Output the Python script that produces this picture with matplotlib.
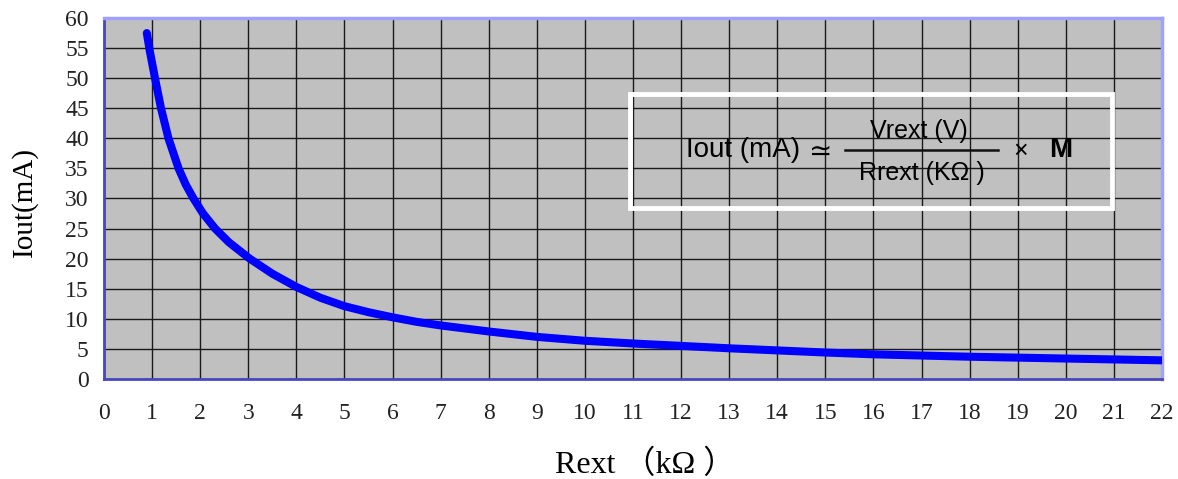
import matplotlib
matplotlib.use("Agg")
import matplotlib.pyplot as plt
from matplotlib.patches import Rectangle

# Data
rext_kohm = [0.89, 0.95, 1.06, 1.185, 1.34, 1.55, 1.7, 1.86, 2.05, 2.31, 2.6, 3.03, 3.5,
             4.0, 4.5, 5.0, 5.5, 6.0, 6.5, 7.0, 8.0, 9.0, 10.0, 11.0, 12.0, 13.0, 14.0, 15.0,
             16.0, 17.0, 18.0, 19.0, 20.0, 21.0, 22.0]
iout_ma = [57.5, 54.6, 50.0, 45.0, 40.0, 35.0, 32.3, 30.0, 27.6, 25.0, 22.7, 20.0, 17.5,
           15.3, 13.5, 12.1, 11.1, 10.25, 9.5, 8.9, 7.9, 7.0, 6.35, 5.9, 5.5, 5.1, 4.75, 4.4,
           4.1, 3.9, 3.7, 3.55, 3.4, 3.25, 3.1]
x_ticks = list(range(0, 23))
y_ticks = list(range(0, 61, 5))

serif = ['Liberation Serif', 'Noto Sans CJK SC', 'DejaVu Sans']
sans = ['Liberation Sans', 'DejaVu Sans']

fig = plt.figure(figsize=(11.78, 4.79), dpi=100)
ax = fig.add_axes([0.0883, 0.2088, 0.8981, 0.7536])
ax.set_facecolor('#c0c0c0')
ax.set_xlim(0, 22)
ax.set_ylim(0, 60)
ax.set_xticks(x_ticks)
ax.set_yticks(y_ticks)
ax.grid(True, color='#1a1a1a', linewidth=1.0)
ax.set_axisbelow(True)
ax.tick_params(axis='both', length=0, labelsize=17, colors='#222222')
ax.tick_params(axis='x', pad=17)
ax.tick_params(axis='y', pad=11)
for lab in ax.get_xticklabels() + ax.get_yticklabels():
    lab.set_family(serif)

for s in ['top', 'right']:
    ax.spines[s].set_color('#a0a0ff')
    ax.spines[s].set_linewidth(2.5)
for s in ['left', 'bottom']:
    ax.spines[s].set_color('#4848c0')
    ax.spines[s].set_linewidth(2.0)

ax.plot(rext_kohm, iout_ma, color='#0000ff', linewidth=5.8, solid_capstyle='round',
        solid_joinstyle='round', zorder=3)

fig.text(0.021, 0.578, 'Iout(mA)', fontsize=21, family=serif, rotation=90,
         ha='center', va='center')
fig.text(0.548, 0.0125, 'Rext （kΩ ）', fontsize=23, family=serif, ha='center', va='baseline')

# Formula box
ax.add_patch(Rectangle((10.94, 28.4), 10.02, 19.0, fill=False, edgecolor='white',
                       linewidth=3.5, zorder=4))
ax.text(13.29, 38.0, 'Iout (mA)', fontsize=20, family=sans, ha='center', va='center', zorder=5)
ax.text(14.9, 37.8, '≃', fontsize=20, family=['DejaVu Sans'], ha='center', va='center', zorder=5)
ax.text(16.95, 41.3, 'Vrext (V)', fontsize=18, family=sans, ha='center', va='center', zorder=5)
ax.plot([15.4, 18.58], [38.0, 38.0], color='#111111', linewidth=1.8, zorder=5)
ax.text(17.0, 34.3, 'Rrext (KΩ )', fontsize=18, family=sans, ha='center', va='center', zorder=5)
ax.text(19.05, 38.0, '×', fontsize=18, family=sans, ha='center', va='center', zorder=5)
ax.text(19.9, 38.0, 'M', fontsize=20, family=sans, weight='bold', ha='center', va='center', zorder=5)

fig.savefig('out.png', dpi=100)
